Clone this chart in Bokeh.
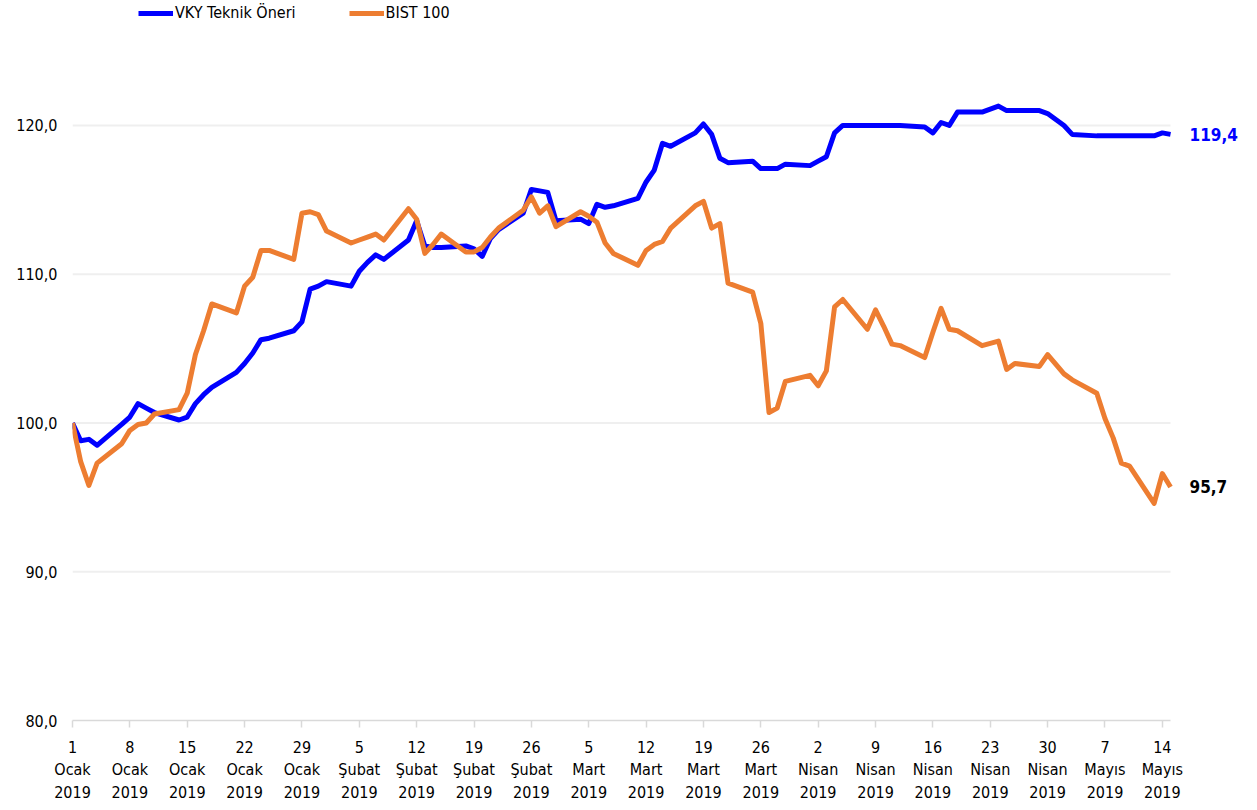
import datetime as dt
from bokeh.plotting import figure
from bokeh.models import FixedTicker, Legend, LegendItem, Label, Range1d
from bokeh.embed import file_html
from bokeh.resources import INLINE

dates = [
    "2019-01-01", "2019-01-02", "2019-01-03", "2019-01-04", "2019-01-07", "2019-01-08", "2019-01-09",
    "2019-01-10", "2019-01-11", "2019-01-14", "2019-01-15", "2019-01-16", "2019-01-17", "2019-01-18",
    "2019-01-21", "2019-01-22", "2019-01-23", "2019-01-24", "2019-01-25", "2019-01-28", "2019-01-29",
    "2019-01-30", "2019-01-31", "2019-02-01", "2019-02-04", "2019-02-05", "2019-02-06", "2019-02-07",
    "2019-02-08", "2019-02-11", "2019-02-12", "2019-02-13", "2019-02-14", "2019-02-15", "2019-02-18",
    "2019-02-19", "2019-02-20", "2019-02-21", "2019-02-22", "2019-02-25", "2019-02-26", "2019-02-27",
    "2019-02-28", "2019-03-01", "2019-03-04", "2019-03-05", "2019-03-06", "2019-03-07", "2019-03-08",
    "2019-03-11", "2019-03-12", "2019-03-13", "2019-03-14", "2019-03-15", "2019-03-18", "2019-03-19",
    "2019-03-20", "2019-03-21", "2019-03-22", "2019-03-25", "2019-03-26", "2019-03-27", "2019-03-28",
    "2019-03-29", "2019-04-01", "2019-04-02", "2019-04-03", "2019-04-04", "2019-04-05", "2019-04-08",
    "2019-04-09", "2019-04-10", "2019-04-11", "2019-04-12", "2019-04-15", "2019-04-16", "2019-04-17",
    "2019-04-18", "2019-04-19", "2019-04-22", "2019-04-24", "2019-04-25", "2019-04-26", "2019-04-29",
    "2019-04-30", "2019-05-02", "2019-05-03", "2019-05-06", "2019-05-07", "2019-05-08", "2019-05-09",
    "2019-05-10", "2019-05-13", "2019-05-14", "2019-05-15",
]

vky = [
    100.0, 98.8, 98.9, 98.5, 99.9, 100.4, 101.3,
    101.0, 100.7, 100.2, 100.4, 101.3, 101.9, 102.4,
    103.4, 104.0, 104.7, 105.6, 105.7, 106.2, 106.8,
    109.0, 109.2, 109.5, 109.2, 110.2, 110.8, 111.3,
    111.0, 112.3, 113.6, 111.9, 111.8, 111.8, 111.9,
    111.7, 111.2, 112.4, 113.0, 114.1, 115.7, 115.6,
    115.5, 113.6, 113.7, 113.4, 114.7, 114.5, 114.6,
    115.1, 116.2, 117.0, 118.8, 118.6, 119.5, 120.1,
    119.4, 117.8, 117.5, 117.6, 117.1, 117.1, 117.1,
    117.4, 117.3, 117.6, 117.9, 119.5, 120.0, 120.0,
    120.0, 120.0, 120.0, 120.0, 119.9, 119.5, 120.2,
    120.0, 120.9, 120.9, 121.3, 121.0, 121.0, 121.0,
    120.8, 120.0, 119.4, 119.3, 119.3, 119.3, 119.3,
    119.3, 119.3, 119.5, 119.4,
]

bist = [
    100.0, 97.4, 95.8, 97.3, 98.6, 99.5, 99.9,
    100.0, 100.6, 100.9, 102.0, 104.6, 106.2, 108.0,
    107.4, 109.2, 109.8, 111.6, 111.6, 111.0, 114.1,
    114.2, 114.0, 112.9, 112.1, 112.3, 112.5, 112.7,
    112.3, 114.4, 113.7, 111.4, 112.0, 112.7, 111.5,
    111.5, 111.8, 112.5, 113.1, 114.3, 115.2, 114.1,
    114.6, 113.2, 114.2, 113.9, 113.5, 112.1, 111.4,
    110.6, 111.6, 112.0, 112.2, 113.1, 114.6, 114.9,
    113.1, 113.4, 109.4, 108.8, 106.7, 100.7, 101.0,
    102.8, 103.2, 102.5, 103.5, 107.8, 108.3, 106.3,
    107.6, 106.5, 105.3, 105.2, 104.4, 106.1, 107.7,
    106.3, 106.2, 105.2, 105.5, 103.6, 104.0, 103.8,
    104.6, 103.3, 102.9, 102.0, 100.3, 99.0, 97.3,
    97.1, 94.6, 96.6, 95.7,
]

tick_dates = [
    "2019-01-01", "2019-01-08", "2019-01-15", "2019-01-22", "2019-01-29", "2019-02-05", "2019-02-12",
    "2019-02-19", "2019-02-26", "2019-03-05", "2019-03-12", "2019-03-19", "2019-03-26", "2019-04-02",
    "2019-04-09", "2019-04-16", "2019-04-23", "2019-04-30", "2019-05-07", "2019-05-14",
]
tick_labels = [
    "1\nOcak\n2019", "8\nOcak\n2019", "15\nOcak\n2019", "22\nOcak\n2019", "29\nOcak\n2019",
    "5\nŞubat\n2019", "12\nŞubat\n2019", "19\nŞubat\n2019", "26\nŞubat\n2019",
    "5\nMart\n2019", "12\nMart\n2019", "19\nMart\n2019", "26\nMart\n2019",
    "2\nNisan\n2019", "9\nNisan\n2019", "16\nNisan\n2019", "23\nNisan\n2019", "30\nNisan\n2019",
    "7\nMayıs\n2019", "14\nMayıs\n2019",
]
y_ticks = [80, 90, 100, 110, 120]
y_tick_labels = ["80,0", "90,0", "100,0", "110,0", "120,0"]
series_names = ["VKY Teknik Öneri", "BIST 100"]

FONT = "DejaVu Sans Condensed"
start = dt.date(2019, 1, 1)


def day_index(s):
    return (dt.date.fromisoformat(s) - start).days


xs = [day_index(d) for d in dates]
tick_x = [day_index(d) for d in tick_dates]

# frame: x 72..1250 px (8.194 px/day), y 0..720 px (14.875 px/unit)
p = figure(width=1250, height=805, output_backend="svg", toolbar_location=None,
           x_range=Range1d(0, 143.76), y_range=Range1d(80, 128.4),
           min_border_left=72, min_border_right=0, min_border_top=0, min_border_bottom=85)
p.outline_line_color = None
p.background_fill_color = "white"
p.border_fill_color = "white"

# horizontal gridlines limited to the data span
grid_vals = [t for t in y_ticks if t > y_ticks[0]]
p.segment(x0=[xs[0]] * len(grid_vals), x1=[xs[-1]] * len(grid_vals), y0=grid_vals, y1=grid_vals,
          line_color="#efefef", line_width=2)

r1 = p.line(xs, vky, line_color="#0000FF", line_width=5, line_join="round")
r2 = p.line(xs, bist, line_color="#ED7D31", line_width=5, line_join="round")

# axes
p.xaxis.ticker = FixedTicker(ticks=tick_x)
p.xaxis.bounds = (xs[0], xs[-1])
p.xaxis.major_label_overrides = dict(zip(tick_x, tick_labels))
p.xaxis.axis_line_color = "#d9d9d9"
p.xaxis.axis_line_width = 1.5
p.xaxis.major_tick_line_color = "#d9d9d9"
p.xaxis.major_tick_line_width = 1.5
p.xaxis.major_tick_in = 0
p.xaxis.major_tick_out = 7
p.xaxis.minor_tick_line_color = None
p.xaxis.major_label_standoff = 10
p.xaxis.major_label_text_font = FONT
p.xaxis.major_label_text_font_size = "16px"
p.xaxis.major_label_text_color = "black"

p.yaxis.ticker = FixedTicker(ticks=y_ticks)
p.yaxis.major_label_overrides = dict(zip(y_ticks, y_tick_labels))
p.yaxis.axis_line_color = None
p.yaxis.major_tick_line_color = None
p.yaxis.minor_tick_line_color = None
p.yaxis.major_tick_out = 0
p.yaxis.major_label_standoff = 15
p.yaxis.major_label_text_font = FONT
p.yaxis.major_label_text_font_size = "16px"
p.yaxis.major_label_text_color = "black"

p.xgrid.grid_line_color = None
p.ygrid.grid_line_color = None

# end labels
fmt = lambda v: f"{v:.1f}".replace(".", ",")
p.add_layout(Label(x=xs[-1], y=vky[-1], text=fmt(vky[-1]), x_offset=19, text_baseline="middle",
                   text_font=FONT, text_font_size="17px", text_font_style="bold", text_color="#0000FF"))
p.add_layout(Label(x=xs[-1], y=bist[-1], text=fmt(bist[-1]), x_offset=19, text_baseline="middle",
                   text_font=FONT, text_font_size="17px", text_font_style="bold", text_color="black"))

legend = Legend(items=[LegendItem(label=series_names[0], renderers=[r1]),
                       LegendItem(label=series_names[1], renderers=[r2])],
                orientation="horizontal", location=(66, 698), padding=0, margin=0,
                spacing=53, glyph_width=35, glyph_height=14, label_height=14, label_standoff=2,
                label_text_font=FONT, label_text_font_size="16px", label_text_color="black",
                background_fill_alpha=0, border_line_alpha=0)
p.add_layout(legend, "center")

open("out.html", "w").write(file_html(p, INLINE))
